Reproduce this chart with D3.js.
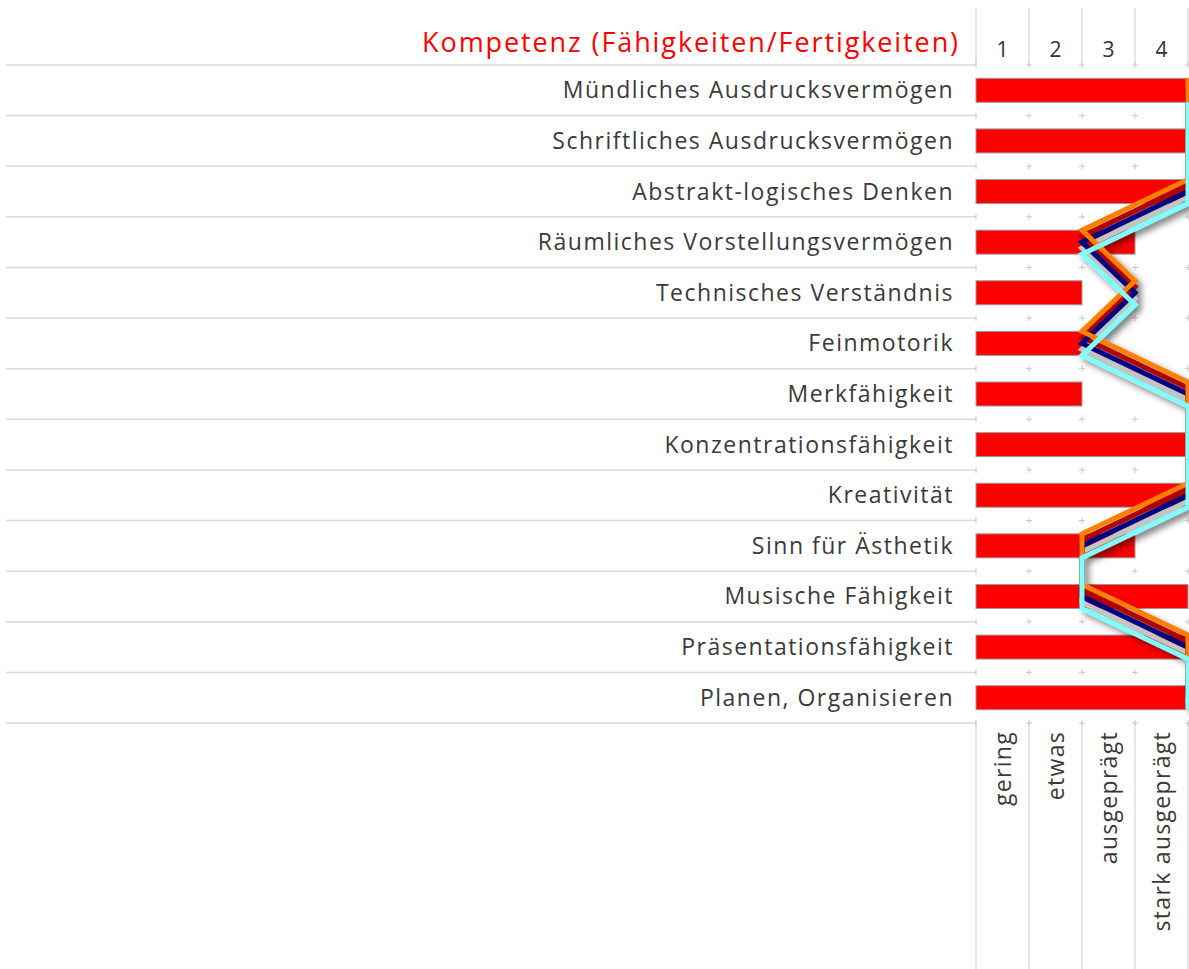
<!DOCTYPE html>
<html>
<head>
<meta charset="utf-8">
<script src="https://cdn.jsdelivr.net/npm/d3@7"></script>
<style>
  html, body { margin: 0; padding: 0; background: #fff; }
  svg { display: block; font-family: "Open Sans", sans-serif; }
</style>
</head>
<body>
<div id="chart"></div>
<script>
// competence profile: red bars = self rating, zigzag line = target profile
const skills = [
  "Mündliches Ausdrucksvermögen",
  "Schriftliches Ausdrucksvermögen",
  "Abstrakt-logisches Denken",
  "Räumliches Vorstellungsvermögen",
  "Technisches Verständnis",
  "Feinmotorik",
  "Merkfähigkeit",
  "Konzentrationsfähigkeit",
  "Kreativität",
  "Sinn für Ästhetik",
  "Musische Fähigkeit",
  "Präsentationsfähigkeit",
  "Planen, Organisieren"
];
const barValues     = [4, 4, 4, 3, 2, 2, 2, 4, 4, 3, 4, 4, 4];
const profileValues = [4, 4, 4, 2, 3, 2, 4, 4, 4, 2, 2, 4, 4];
const levels      = [1, 2, 3, 4];
const levelLabels = ["gering", "etwas", "ausgeprägt", "stark ausgeprägt"];
const title = "Kompetenz (Fähigkeiten/Fertigkeiten)";

const width = 1189, height = 969;
const gridLeft = 976, gridRight = 1188;
const rowsTop = 65, rowsBottom = 723;

const svg = d3.select("#chart").append("svg")
  .attr("width", width)
  .attr("height", height);

const x = d3.scaleLinear().domain([0, 4]).range([gridLeft, gridRight]);
const y = d3.scaleBand().domain(skills).range([rowsTop, rowsBottom]);
const rowEdges = d3.range(skills.length + 1).map(i => rowsTop + i * y.step());

// shadow for the profile lines
const defs = svg.append("defs");
defs.append("filter")
  .attr("id", "shadow")
  .attr("x", "-20%").attr("y", "-20%")
  .attr("width", "140%").attr("height", "140%")
  .append("feDropShadow")
    .attr("dx", 4).attr("dy", 4)
    .attr("stdDeviation", 3)
    .attr("flood-color", "#000")
    .attr("flood-opacity", 0.5);

// vertical column lines in header and footer
const colLines = svg.append("g").attr("stroke", "#d6d6d6").attr("stroke-width", 1.2);
[0, 1, 2, 3, 4].forEach(v => {
  colLines.append("line")
    .attr("x1", x(v)).attr("x2", x(v))
    .attr("y1", 8).attr("y2", rowsTop);
  colLines.append("line")
    .attr("x1", x(v)).attr("x2", x(v))
    .attr("y1", rowsBottom).attr("y2", height);
});

// horizontal row separators (left part only)
svg.append("g")
  .attr("stroke", "#d8d8d8").attr("stroke-width", 1.5)
  .selectAll("line")
  .data(rowEdges)
  .join("line")
    .attr("x1", 6).attr("x2", gridLeft)
    .attr("y1", d => d).attr("y2", d => d);

// little plus marks on the grid intersections
const marks = svg.append("g").attr("stroke", "#c8c8c8").attr("stroke-width", 1);
rowEdges.forEach(ry => {
  [0, 1, 2, 3, 4].forEach(v => {
    marks.append("line")
      .attr("x1", x(v)).attr("x2", x(v))
      .attr("y1", ry - 3).attr("y2", ry + 3);
    if (v > 0) marks.append("line")
      .attr("x1", x(v) - 3).attr("x2", x(v) + 3)
      .attr("y1", ry).attr("y2", ry);
  });
});

// title
svg.append("text")
  .attr("x", 960).attr("y", 52)
  .attr("text-anchor", "end")
  .attr("font-size", 27)
  .attr("letter-spacing", 1.9)
  .attr("fill", "#ff0000")
  .text(title);

// level numbers
svg.append("g")
  .selectAll("text")
  .data(levels)
  .join("text")
    .attr("x", d => x(d - 0.5))
    .attr("y", 57)
    .attr("text-anchor", "middle")
    .attr("font-size", 21)
    .attr("fill", "#333")
    .text(d => d);

// row labels
svg.append("g")
  .selectAll("text")
  .data(skills)
  .join("text")
    .attr("x", 954)
    .attr("y", d => y(d) + y.bandwidth() / 2 + 8)
    .attr("text-anchor", "end")
    .attr("font-size", 23)
    .attr("letter-spacing", 1.5)
    .attr("fill", "#3a3a3a")
    .text(d => d);

// bars
const barH = 24;
svg.append("g")
  .selectAll("rect")
  .data(skills)
  .join("rect")
    .attr("x", x(0))
    .attr("y", d => y(d) + y.bandwidth() / 2 - barH / 2)
    .attr("width", (d, i) => x(barValues[i]) - x(0))
    .attr("height", barH)
    .attr("fill", "#ff0000")
    .attr("stroke", "#9a9a9a")
    .attr("stroke-width", 1);

// profile line, drawn as several offset coloured strands
const strands = [
  { color: "#c4c4c4", dy: 6 },
  { color: "#b00000", dy: -6 },
  { color: "#000080", dy: 0 },
  { color: "#ff8000", dy: -12 },
  { color: "#80ffff", dy: 12 }
];
const lineG = svg.append("g").attr("filter", "url(#shadow)");
strands.forEach(s => {
  const line = d3.line()
    .x((d, i) => x(d))
    .y((d, i) => y(skills[i]) + y.bandwidth() / 2 + s.dy);
  lineG.append("path")
    .attr("d", line(profileValues))
    .attr("fill", "none")
    .attr("stroke", s.color)
    .attr("stroke-width", 5)
    .attr("stroke-linejoin", "miter");
});

// level names, rotated
svg.append("g")
  .selectAll("text")
  .data(levelLabels)
  .join("text")
    .attr("transform", (d, i) => `translate(${x(i + 0.5) + 8},731) rotate(-90)`)
    .attr("text-anchor", "end")
    .attr("font-size", 23)
    .attr("letter-spacing", 1.3)
    .attr("fill", "#3a3a3a")
    .text(d => d);
</script>
</body>
</html>
